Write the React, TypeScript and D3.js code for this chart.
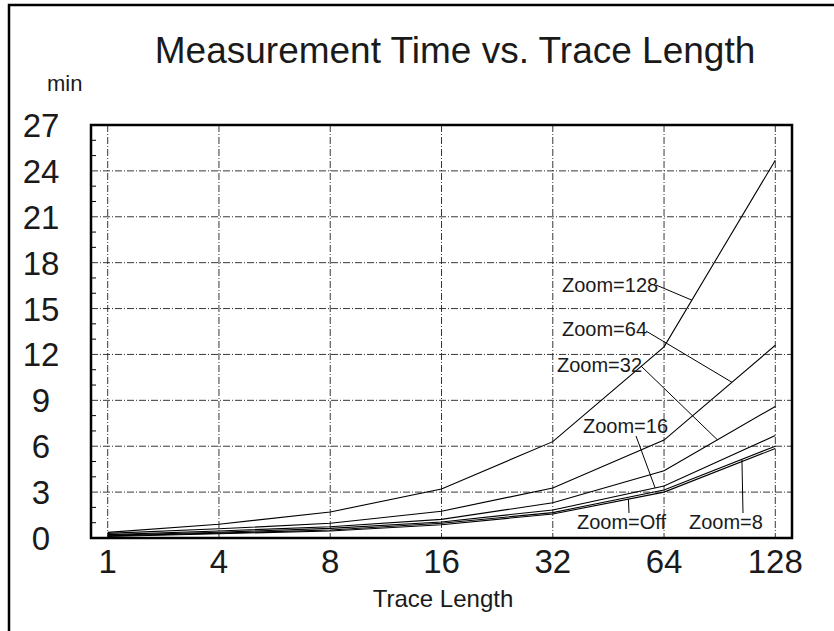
import React from "react";
import * as d3 from "d3";

// x categories (equally spaced, not a real log axis)
const traceLengths = ["1", "4", "8", "16", "32", "64", "128"];

// minutes per trace length
const zoom128 = [0.37, 0.9, 1.7, 3.2, 6.3, 12.5, 24.7];
const zoom64 = [0.3, 0.6, 0.96, 1.75, 3.27, 6.4, 12.6];
const zoom32 = [0.22, 0.46, 0.74, 1.22, 2.3, 4.4, 8.6];
const zoom16 = [0.18, 0.38, 0.63, 1.05, 1.83, 3.4, 6.7];
const zoom8 = [0.14, 0.32, 0.52, 0.96, 1.66, 3.14, 6.0];
const zoomOff = [0.1, 0.28, 0.46, 0.87, 1.57, 3.0, 5.85];

const seriesNames = ["Zoom=128", "Zoom=64", "Zoom=32", "Zoom=16", "Zoom=8", "Zoom=Off"];
const seriesValues = [zoom128, zoom64, zoom32, zoom16, zoom8, zoomOff];

const yTicks = [0, 3, 6, 9, 12, 15, 18, 21, 24, 27];
const yMax = 27;

// where each label sits and where its leader line touches the curve
// t = fractional category index along the curve
const labelLayout = [
  { series: 0, t: 5.25, tx: 562, ty: 292, lx: 656, ly: 285 },
  { series: 1, t: 5.61, tx: 562, ty: 336, lx: 646, ly: 331 },
  { series: 2, t: 5.48, tx: 557, ty: 372, lx: 641, ly: 366 },
  { series: 3, t: 4.92, tx: 583, ty: 433, lx: 636, ly: 436 },
  { series: 5, t: 4.68, tx: 577, ty: 529, lx: 629, ly: 513 },
  { series: 4, t: 5.7, tx: 689, ty: 529, lx: 743, ly: 513 },
];

const W = 834;
const H = 631;
const margin = { top: 125, right: 42, bottom: 93, left: 91 };
const font = "'Liberation Sans', Arial, Helvetica, sans-serif";
const ink = "#1a1a1a";

export default function App() {
  const iw = W - margin.left - margin.right;
  const ih = H - margin.top - margin.bottom;

  const x = d3.scalePoint<string>().domain(traceLengths).range([0, iw]).padding(0.15);
  const y = d3.scaleLinear().domain([0, yMax]).range([ih, 0]);

  const line = d3
    .line<number>()
    .x((d, i) => x(traceLengths[i]) as number)
    .y((d) => y(d));

  const minorTicks = d3.range(0, yMax + 1).filter((v) => v % 3 !== 0);

  const pointAt = (vals: number[], t: number) => {
    const i0 = Math.floor(t);
    const i1 = Math.min(i0 + 1, vals.length - 1);
    const f = t - i0;
    const x0 = x(traceLengths[i0]) as number;
    const x1 = x(traceLengths[i1]) as number;
    return [x0 + (x1 - x0) * f, y(vals[i0] + (vals[i1] - vals[i0]) * f)];
  };

  const grid = { stroke: "#222", strokeWidth: 0.9, strokeDasharray: "7,2,1,2" };

  return (
    <svg width={W} height={H} style={{ position: "absolute", left: 0, top: 0, background: "#fff" }} fontFamily={font}>
      {/* outer frame, runs off the right and bottom edges */}
      <rect x={9} y={5} width={W + 20} height={H + 20} fill="none" stroke="#000" strokeWidth={2.5} />

      <text x={455} y={63} textAnchor="middle" fontSize={37} fill={ink}>
        Measurement Time vs. Trace Length
      </text>
      <text x={47} y={91} fontSize={22} fill={ink}>min</text>

      <g transform={`translate(${margin.left},${margin.top})`}>
        {/* grid */}
        {traceLengths.map((c) => (
          <line key={"vg" + c} x1={x(c)} x2={x(c)} y1={0} y2={ih} {...grid} />
        ))}
        {yTicks.slice(1, -1).map((v) => (
          <line key={"hg" + v} x1={0} x2={iw} y1={y(v)} y2={y(v)} {...grid} />
        ))}
        {/* minor ticks on the left axis */}
        {minorTicks.map((v) => (
          <line key={"mt" + v} x1={0} x2={5} y1={y(v)} y2={y(v)} stroke="#000" strokeWidth={1} />
        ))}

        {/* curves */}
        {seriesValues.map((vals, i) => (
          <path key={seriesNames[i]} d={line(vals) || ""} fill="none" stroke="#000" strokeWidth={1.1} />
        ))}

        {/* frame of the plot */}
        <rect x={0} y={0} width={iw} height={ih} fill="none" stroke="#000" strokeWidth={2.5} />

        {/* tick labels */}
        {yTicks.map((v) => (
          <text key={"yl" + v} x={-50} y={y(v) + 12} textAnchor="middle" fontSize={33} fill={ink}>
            {v}
          </text>
        ))}
        {traceLengths.map((c) => (
          <text key={"xl" + c} x={x(c)} y={ih + 35} textAnchor="middle" fontSize={33} fill={ink}>
            {c}
          </text>
        ))}
      </g>

      <text x={443} y={607} textAnchor="middle" fontSize={24} fill={ink}>
        Trace Length
      </text>

      {/* series labels with leader lines */}
      <g>
        {labelLayout.map((l) => {
          const [px, py] = pointAt(seriesValues[l.series], l.t);
          return (
            <g key={"lab" + l.series}>
              <line x1={l.lx} y1={l.ly} x2={px + margin.left} y2={py + margin.top} stroke="#000" strokeWidth={1} />
              <text x={l.tx} y={l.ty} fontSize={20} fill={ink}>
                {seriesNames[l.series]}
              </text>
            </g>
          );
        })}
      </g>
    </svg>
  );
}
